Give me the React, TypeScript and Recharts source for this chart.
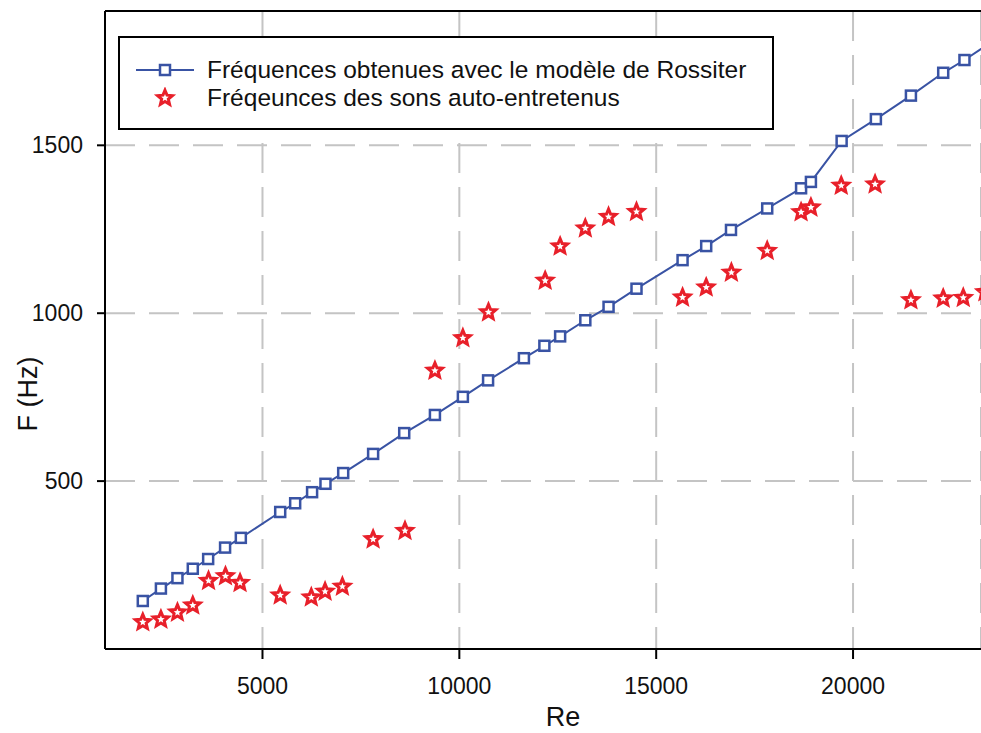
import { ScatterChart, Scatter, XAxis, YAxis, CartesianGrid, ReferenceLine } from 'recharts';

// Rossiter model (blue squares + line)
const modelRe = [
  1960, 2420, 2840, 3230, 3620, 4050, 4450, 5450, 5830, 6260, 6600, 7050, 7810, 8600,
  9380, 10090, 10730, 11640, 12160, 12560, 13200, 13790, 14500, 15670, 16270, 16900,
  17820, 18680, 18930, 19710, 20580, 21470, 22290, 22830, 23420,
];
const modelF = [
  143, 180, 211, 239, 268, 302, 331, 408, 434, 467, 492, 524, 581, 643,
  697, 751, 800, 866, 903, 931, 979, 1019, 1073, 1158, 1200, 1248,
  1312, 1372, 1391, 1513, 1578, 1648, 1716, 1754, 1800,
];

// measured self-sustained tones (red stars)
const measRe = [
  1960, 2420, 2840, 3230, 3630, 4060, 4430, 5450, 6240, 6590, 7030, 7810, 8620,
  9380, 10090, 10740, 12180, 12560, 13200, 13790, 14500, 15670, 16270, 16910, 17820,
  18680, 18930, 19700, 20560, 21470, 22290, 22800, 23350,
];
const measF = [
  80, 88, 109, 130, 203, 217, 197, 160, 154, 171, 186, 327, 352,
  829, 926, 1003, 1097, 1199, 1253, 1287, 1302, 1047, 1077, 1121, 1186,
  1301, 1315, 1380, 1384, 1039, 1044, 1046, 1063,
];

const xTicks = [5000, 10000, 15000, 20000];
const yTicks = [500, 1000, 1500];

const modelLabel = 'Fréquences obtenues avec le modèle de Rossiter';
const measLabel = 'Fréqeunces des sons auto-entretenus';

const BLUE = '#3953A4';
const RED = '#E8202A';
const FONT = '"Liberation Sans", Arial, sans-serif';

const modelData = modelRe.map((re, i) => ({ re, f: modelF[i] }));
const measData = measRe.map((re, i) => ({ re, f: measF[i] }));

const starPoints = (cx: number, cy: number, R: number, r: number) => {
  const pts: string[] = [];
  for (let i = 0; i < 10; i++) {
    const rad = i % 2 === 0 ? R : r;
    const a = -Math.PI / 2 + (i * Math.PI) / 5;
    pts.push(`${cx + rad * Math.cos(a)},${cy + rad * Math.sin(a)}`);
  }
  return pts.join(' ');
};

const SquareDot = (props: any) => {
  const { cx, cy } = props;
  return <rect x={cx - 5} y={cy - 5} width={10} height={10} fill="#fff" stroke={BLUE} strokeWidth={2.5} />;
};

const StarDot = (props: any) => {
  const { cx, cy } = props;
  return <polygon points={starPoints(cx, cy, 7.8, 3.5)} fill="#fff" stroke={RED} strokeWidth={3} />;
};

const ChartLegend = () => (
  <div
    style={{
      position: 'absolute',
      left: 118,
      top: 36,
      width: 656,
      height: 94,
      boxSizing: 'border-box',
      border: '2px solid #000',
      background: '#fff',
      fontFamily: FONT,
      fontSize: 24.5,
      color: '#111',
    }}
  >
    <svg width={60} height={20} style={{ position: 'absolute', left: 16, top: 22 }}>
      <line x1={0} y1={10} x2={58} y2={10} stroke={BLUE} strokeWidth={2} />
      <SquareDot cx={29} cy={10} />
    </svg>
    <div style={{ position: 'absolute', left: 87, top: 17, lineHeight: '30px', whiteSpace: 'nowrap' }}>{modelLabel}</div>
    <svg width={60} height={22} style={{ position: 'absolute', left: 16, top: 49 }}>
      <StarDot cx={29} cy={11} />
    </svg>
    <div style={{ position: 'absolute', left: 87, top: 45, lineHeight: '30px', whiteSpace: 'nowrap' }}>{measLabel}</div>
  </div>
);

export default function App() {
  const tickStyle = { fill: '#111', fontSize: 23, fontFamily: FONT };
  return (
    <div style={{ position: 'absolute', left: 0, top: 0, width: 981, height: 733, background: '#fff', overflow: 'hidden' }}>
      <ScatterChart width={981} height={733} margin={{ top: 11, right: 0, bottom: 0, left: 0 }}>
        <CartesianGrid strokeDasharray="30 14" stroke="#c4c4c4" strokeWidth={2} />
        <XAxis
          type="number"
          dataKey="re"
          domain={[1000, 23250]}
          allowDataOverflow
          ticks={xTicks}
          height={84}
          tickSize={10}
          tickMargin={19}
          tick={tickStyle}
          axisLine={{ stroke: '#000', strokeWidth: 2 }}
          tickLine={{ stroke: '#000', strokeWidth: 2 }}
          label={{
            value: 'Re',
            content: () => (
              <text x={563} y={726} textAnchor="middle" fill="#111" fontSize={27} fontFamily={FONT}>
                Re
              </text>
            ),
          }}
        />
        <YAxis
          type="number"
          dataKey="f"
          domain={[0, 1900]}
          allowDataOverflow
          ticks={yTicks}
          width={105}
          tickSize={8}
          tickMargin={14}
          tick={tickStyle}
          axisLine={{ stroke: '#000', strokeWidth: 2 }}
          tickLine={{ stroke: '#000', strokeWidth: 2 }}
          label={{
            value: 'F (Hz)',
            content: () => (
              <text
                x={37}
                y={394}
                transform="rotate(-90 37 394)"
                textAnchor="middle"
                fill="#111"
                fontSize={27}
                fontFamily={FONT}
              >
                F (Hz)
              </text>
            ),
          }}
        />
        <ReferenceLine y={1900} stroke="#000" strokeWidth={2} />
        <Scatter
          name={modelLabel}
          data={modelData}
          line={{ stroke: BLUE, strokeWidth: 2 }}
          shape={SquareDot}
          isAnimationActive={false}
        />
        <Scatter name={measLabel} data={measData} shape={StarDot} isAnimationActive={false} />
      </ScatterChart>
      <ChartLegend />
    </div>
  );
}
